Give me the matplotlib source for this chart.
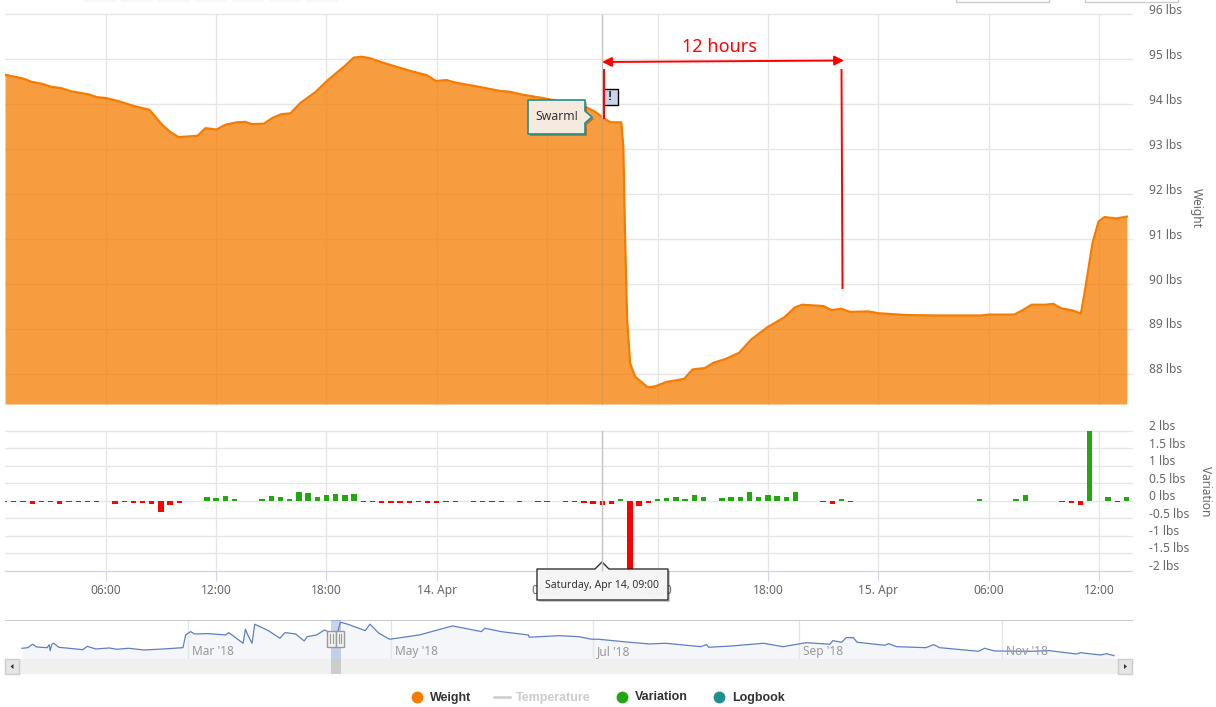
'''
Hive weight chart: weight area, half hourly variation bars and the navigator strip.
'''

import matplotlib
matplotlib.use('Agg')
import matplotlib.pyplot as plt
import matplotlib.patches as mpatches
from matplotlib.transforms import ScaledTranslation

plt.rcParams['font.family'] = ['Noto Sans', 'DejaVu Sans']

# Hours since Apr 13 00:00
weight_hours = [0.52, 1.54, 1.97, 2.51, 3.04, 3.58, 4.11, 5.09, 5.51, 6.01, 6.70, 7.55, 8.37, 8.62, 9.05,
                9.49, 9.96, 10.99, 11.42, 12.02, 12.53, 13.13, 13.57, 13.95, 14.60, 15.07, 15.54, 16.04,
                16.58, 17.39, 18.08, 19.04, 19.48, 19.91, 20.34, 21.20, 22.59, 23.45, 23.95, 24.52, 25.06,
                26.03, 27.42, 27.97, 28.60, 29.90, 32.04, 32.59, 33.01, 33.44, 34.03, 34.14, 34.24, 34.35,
                34.51, 34.78, 35.09, 35.47, 35.85, 36.49, 37.45, 37.91, 38.58, 39.05, 39.69, 40.44, 41.08,
                41.98, 42.90, 43.47, 43.86, 45.03, 45.46, 45.99, 46.46, 47.48, 48.02, 49.52, 51.23, 53.57,
                54.00, 55.39, 55.82, 56.34, 57.10, 57.52, 57.95, 58.59, 59.02, 59.22, 59.65, 59.98, 60.30,
                60.94, 61.52]
weight_lbs = [94.66, 94.57, 94.50, 94.46, 94.39, 94.36, 94.29, 94.22, 94.16, 94.14, 94.07, 93.96, 93.88, 93.76, 93.55,
              93.39, 93.27, 93.30, 93.47, 93.44, 93.55, 93.60, 93.61, 93.56, 93.57, 93.70, 93.78, 93.80,
              94.03, 94.27, 94.54, 94.87, 95.04, 95.06, 95.03, 94.91, 94.74, 94.65, 94.52, 94.54, 94.48,
              94.41, 94.30, 94.28, 94.22, 94.13, 93.95, 93.84, 93.71, 93.60, 93.60, 93.06, 90.98, 89.20,
              88.24, 87.94, 87.83, 87.70, 87.72, 87.82, 87.89, 88.10, 88.13, 88.25, 88.33, 88.47, 88.76,
              89.04, 89.26, 89.48, 89.54, 89.51, 89.42, 89.45, 89.38, 89.39, 89.35, 89.31, 89.30, 89.30,
              89.32, 89.32, 89.41, 89.54, 89.54, 89.56, 89.46, 89.41, 89.34, 89.80, 90.91, 91.39, 91.49,
              91.46, 91.50]

# Half hourly variation
variation_hours = [0.5, 1, 1.5, 2, 2.5, 3, 3.5, 4, 4.5, 5, 5.5, 6.5, 7, 7.5, 8, 8.5, 9, 9.5, 10,
                   11.5, 12, 12.5, 13, 14.5, 15, 15.5, 16, 16.5, 17, 17.5, 18, 18.5, 19, 19.5,
                   20, 20.5, 21, 21.5, 22, 22.5, 23, 23.5, 24, 24.5, 25, 26, 26.5, 27, 27.5, 28.5,
                   29.5, 30, 31, 31.5, 32, 32.5, 33, 33.5, 34, 34.5, 35, 35.5, 36, 36.5, 37, 37.5,
                   38, 38.5, 39.5, 40, 40.5, 41, 41.5, 42, 42.5, 43, 43.5, 45, 45.5, 46, 46.5,
                   53.5, 55.5, 56, 58, 58.5, 59, 59.5, 60.5, 61, 61.5]
variation_lbs = [-0.05, -0.05, -0.05, -0.09, -0.05, -0.05, -0.09, -0.05, -0.05, -0.05, -0.05, -0.09, -0.05, -0.08, -0.08, -0.11, -0.32, -0.13, -0.07,
                 0.1, 0.08, 0.13, 0.03, 0.03, 0.13, 0.1, 0.05, 0.24, 0.21, 0.1, 0.16, 0.19, 0.16, 0.19,
                 -0.05, -0.05, -0.08, -0.08, -0.08, -0.08, -0.05, -0.08, -0.08, -0.05, -0.05, -0.05, -0.05, -0.05, -0.05, -0.05,
                 -0.05, -0.05, -0.05, -0.05, -0.08, -0.09, -0.12, -0.1, 0.05, -2.1, -0.17, -0.07, 0.05, 0.08, 0.1, 0.05,
                 0.16, 0.1, 0.08, 0.1, 0.1, 0.24, 0.1, 0.16, 0.13, 0.1, 0.24, -0.05, -0.1, 0.05, -0.05,
                 0.03, 0.05, 0.16, -0.05, -0.07, -0.12, 2.1, 0.1, -0.05, 0.1]

# Navigator: days since Mar 1 and height of the line in the strip
nav_days = [-50, -48.2, -46.8, -45.6, -42.4, -41.8, -41.5, -41, -40.4, -38.9, -31.7, -30.3, -27.8, -23.7,
            -21.4, -17.9, -13.2, -7.4, -1.5, -0.7, 0.8, 2, 6.1, 11.3, 12.3, 16.6, 17.3, 18, 19.3, 20.1,
            24.2, 27.7, 29.2, 32.4, 35, 35.9, 38.8, 41.1, 42.3, 45, 45.9, 48.1, 53.4, 54.8, 57.5, 60.7,
            69.7, 79.7, 88.4, 89.4, 94.3, 102.5, 102.8, 111.8, 117.6, 121.7, 123.7, 132, 139, 143.8,
            154.4, 156.2, 156.8, 163.8, 173.3, 179.2, 186.2, 193.3, 194.2, 196.9, 198.2, 200.4, 201.5,
            209.9, 211, 213.4, 222.2, 224.6, 226.4, 238.1, 239.9, 242.9, 253.5, 259.5, 267.6, 268.8,
            274.8, 276.6, 278.9]
nav_values = [10.7, 11.3, 14.7, 12, 11.3, 14.3, 8.3, 14.7, 15.7, 11.7, 9.3, 12.7, 10, 11,
              9.7, 10.7, 9, 10, 11.3, 24, 27.3, 25, 25.3, 24, 26.3, 15.7, 29.7, 24, 15.7, 34.7,
              28.3, 20.7, 26.3, 25, 18, 22.3, 24, 29, 27, 25.7, 36.7, 34.7, 28.3, 34.7, 25.7, 19.7,
              24, 33, 27.3, 30.7, 27.3, 24, 21.7, 23.3, 22.3, 19.7, 19.7, 17, 15, 15.7,
              12.3, 14.3, 11.7, 13, 15.7, 12.3, 16.3, 14.7, 18.3, 16.7, 21.3, 21.3, 16.7,
              13.7, 15.3, 12.3, 11.3, 14.3, 11.3, 7.7, 10.7, 8, 7.7, 8.3, 5, 6.3,
              4, 5.3, 3.3]

hour_ticks = [6, 12, 18, 24, 30, 36, 42, 48, 54, 60]
hour_labels = ['06:00', '12:00', '18:00', '14. Apr', '06:00', '12:00', '18:00', '15. Apr', '06:00', '12:00']
weight_ticks = [88, 89, 90, 91, 92, 93, 94, 95, 96]
variation_ticks = [-2, -1.5, -1, -0.5, 0, 0.5, 1, 1.5, 2]
variation_labels = ['-2 lbs', '-1.5 lbs', '-1 lbs', '-0.5 lbs', '0 lbs', '0.5 lbs', '1 lbs', '1.5 lbs', '2 lbs']
nav_ticks = [0, 61, 122, 184, 245]
nav_labels = ["Mar '18", "May '18", "Jul '18", "Sep '18", "Nov '18"]

WIDTH, HEIGHT = 1216, 707
GRID = '#e6e6e6'
TEXT = '#666666'
ORANGE = '#f57c00'
GREEN = '#22a612'
TEAL = '#1f8f8f'
BOLD = ['Liberation Sans', 'DejaVu Sans']
xlimits = (0.52, 61.8)


def px_axes(fig, left, top, right, bottom, **kwargs):
    return fig.add_axes([left / WIDTH, 1 - bottom / HEIGHT, (right - left) / WIDTH, (bottom - top) / HEIGHT], **kwargs)


def clean(ax):
    for spine in ax.spines.values():
        spine.set_visible(False)
    ax.set_axisbelow(True)
    ax.grid(True, color=GRID, lw=1, clip_on=False)


def raise_labels(ax, fig):
    # labels sit a little above their grid lines
    shift = ScaledTranslation(0, 4 / 100, fig.dpi_scale_trans)
    for label in ax.get_yticklabels():
        label.set_va('center')
        label.set_transform(label.get_transform() + shift)


def weight_panel(ax, fig):
    clean(ax)
    ax.fill_between(weight_hours, weight_lbs, 87.33, color=ORANGE, alpha=0.75, lw=0)
    ax.plot(weight_hours, weight_lbs, color=ORANGE, lw=1.6)
    ax.set_xlim(xlimits)
    ax.set_ylim(87.33, 96)
    ax.set_xticks(hour_ticks)
    ax.tick_params(axis='x', length=0, labelbottom=False)
    ax.yaxis.tick_right()
    ax.set_yticks(weight_ticks)
    ax.set_yticklabels(['%d lbs' % t for t in weight_ticks])
    ax.tick_params(axis='y', length=0, pad=12, labelsize=8.6, labelcolor=TEXT)
    raise_labels(ax, fig)


def variation_panel(ax, fig):
    clean(ax)
    colors = [GREEN if v > 0 else '#ff0000' for v in variation_lbs]
    ax.bar(variation_hours, variation_lbs, width=0.29, color=colors, lw=0)
    ax.set_xlim(xlimits)
    ax.set_ylim(-2, 2)
    ax.set_xticks(hour_ticks)
    ax.set_xticklabels(hour_labels)
    ax.tick_params(axis='x', length=7, color='#ccd6eb', pad=3, labelsize=8.6, labelcolor=TEXT)
    ax.spines['bottom'].set_visible(True)
    ax.spines['bottom'].set_color('#ccd6eb')
    ax.yaxis.tick_right()
    ax.set_yticks(variation_ticks)
    ax.set_yticklabels(variation_labels)
    ax.tick_params(axis='y', length=0, pad=12, labelsize=8.6, labelcolor=TEXT)
    raise_labels(ax, fig)


def navigator(ax):
    clean(ax)
    ax.grid(False)
    ax.spines['top'].set_visible(True)
    ax.spines['top'].set_color('#cccccc')
    for day in nav_ticks:
        ax.axvline(day, color=GRID, lw=1)
    for day, label in zip(nav_ticks, nav_labels):
        ax.annotate(label, (day, 0), xytext=(3, 3), textcoords='offset points',
                    fontsize=8.6, color='#999999')
    ax.fill_between(nav_days, nav_values, 0, color='#6685c2', alpha=0.07, lw=0)
    ax.plot(nav_days, nav_values, color='#5f7fbf', lw=0.9)
    ax.set_xlim(-55.1, 284.3)
    ax.set_ylim(0, 39.4)
    ax.set_xticks([])
    ax.set_yticks([])


def overlay(ax):
    ax.set_xlim(0, WIDTH)
    ax.set_ylim(HEIGHT, 0)
    ax.axis('off')

    # Range buttons and date inputs cut off at the top
    for left, right in [(84, 116), (121, 152), (158, 190), (195, 227), (232, 264), (269, 301), (306, 338)]:
        ax.add_patch(mpatches.Rectangle((left, -2), right - left, 4, fc='#f7f7f7', ec='none'))
    for left, right in [(956, 1049), (1085, 1178)]:
        ax.add_patch(mpatches.Rectangle((left, -3), right - left, 4.5, fc='white', ec='#cccccc', lw=1))

    # Crosshair, faint where it crosses the area
    ax.plot([602, 602], [14.5, 118], color='#c4c4c4', lw=1)
    ax.plot([602, 602], [118, 404], color='#8a8a8a', lw=1, alpha=0.25)
    ax.plot([602, 602], [430.5, 570], color='#c4c4c4', lw=1)

    # Hand drawn 12 hour marker
    ax.annotate('', xy=(602, 62), xytext=(844, 60.5),
                arrowprops=dict(arrowstyle='<|-|>', color='#ff0000', lw=1.4, mutation_scale=14,
                                shrinkA=0, shrinkB=0))
    ax.plot([603.5, 603.5], [70, 118], color='#ff0000', lw=1.4)
    ax.plot([841.5, 842.5], [70, 288], color='#ff0000', lw=1.4)
    ax.text(719, 47, '12 hours', color='#ff0000', fontsize=13, ha='center', va='center')

    # Logbook flag
    ax.add_patch(mpatches.Rectangle((603, 88.5), 15, 16, fc='#c9d3ea', ec='black', lw=1))
    ax.text(610, 97, '!', fontsize=9, fontweight='bold', family=BOLD, ha='center', va='center', color='#222222')

    # Swarm callout
    callout = [(528, 100), (585, 100), (585, 111), (592, 117), (585, 123), (585, 134), (528, 134)]
    ax.add_patch(mpatches.Polygon([(x + 2, y + 2) for x, y in callout], fc='black', ec='none', alpha=0.25))
    ax.add_patch(mpatches.Polygon(callout, fc='#f6eadf', ec=TEAL, lw=1.2, joinstyle='round'))
    ax.text(556.5, 116.5, 'Swarm!', fontsize=8.8, color='#333333', ha='center', va='center')

    # Tooltip under the bars
    tooltip = [(537, 569), (595, 569), (602, 562), (609, 569), (668, 569), (668, 600), (537, 600)]
    ax.add_patch(mpatches.Polygon([(x + 2, y + 2) for x, y in tooltip], fc='black', ec='none', alpha=0.2))
    ax.add_patch(mpatches.Polygon(tooltip, fc='#f9f9f9', ec='#222222', lw=1, alpha=0.93, joinstyle='round'))
    ax.text(602, 585.5, 'Saturday, Apr 14, 09:00', fontsize=7.5, color='#333333', ha='center', va='center')

    # Axis titles
    ax.text(1196, 208, 'Weight', rotation=270, fontsize=8.6, color=TEXT, ha='center', va='center')
    ax.text(1205, 491, 'Variation', rotation=270, fontsize=8.6, color=TEXT, ha='center', va='center')

    # Navigator selection and scrollbar
    ax.add_patch(mpatches.Rectangle((331, 620), 10, 39, fc='#6685c2', ec='none', alpha=0.35))
    ax.add_patch(mpatches.Rectangle((5, 659), 1127, 15, fc='#f0f0f0', ec='none'))
    ax.add_patch(mpatches.Rectangle((331, 659), 10, 15, fc='#cccccc', ec='none'))
    for left in (5, 1118):
        ax.add_patch(mpatches.Rectangle((left, 659), 14, 15, fc='#e6e6e6', ec='#cccccc', lw=1))
    ax.add_patch(mpatches.Polygon([(13.5, 664), (13.5, 669), (10.5, 666.5)], fc='#333333', ec='none'))
    ax.add_patch(mpatches.Polygon([(1124, 664), (1124, 669), (1127, 666.5)], fc='#333333', ec='none'))
    for left in (327, 335.5):
        ax.add_patch(mpatches.Rectangle((left, 631), 8.5, 15.5, fc='#f2f2f2', ec='#999999', lw=1))
        ax.plot([left + 3, left + 3], [634, 643], color='#999999', lw=0.8)
        ax.plot([left + 5.5, left + 5.5], [634, 643], color='#999999', lw=0.8)

    # Legend
    for x, color in [(417, ORANGE), (621.5, GREEN), (718.5, TEAL)]:
        ax.plot(x, 696.5, 'o', color=color, ms=8.5, mew=0)
    ax.plot([494, 510], [696.5, 696.5], color='#cccccc', lw=1.8)
    for x, label, color in [(430, 'Weight', '#333333'), (515.5, 'Temperature', '#cccccc'),
                            (635, 'Variation', '#333333'), (732, 'Logbook', '#333333')]:
        ax.text(x, 697.5, label, fontsize=9, fontweight='bold', family=BOLD, color=color, va='center')


if __name__ == '__main__':
    fig = plt.figure(figsize=(WIDTH / 100, HEIGHT / 100), dpi=100)

    weight_panel(px_axes(fig, 5, 14.5, 1132, 404), fig)
    variation_panel(px_axes(fig, 5, 430.5, 1132, 570.5), fig)
    navigator(px_axes(fig, 5, 619.5, 1132, 659))

    top = px_axes(fig, 0, 0, WIDTH, HEIGHT)
    top.patch.set_alpha(0)
    overlay(top)

    fig.savefig('out.png', dpi=100)
